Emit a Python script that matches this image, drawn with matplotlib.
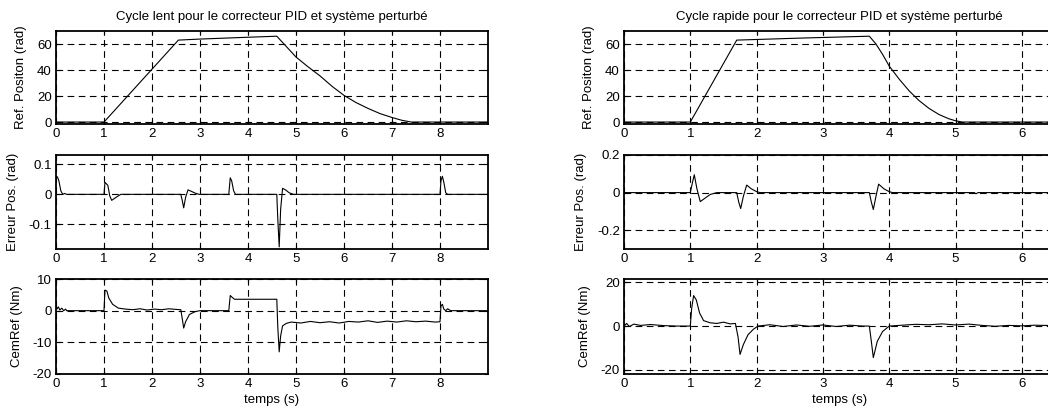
import matplotlib
matplotlib.use("Agg")
import matplotlib.pyplot as plt

# ---- cycle lent (left column) ----
slow_pos_t = [0.0, 1.0, 2.55, 3.0, 3.5, 4.0, 4.6, 4.8, 5.0, 5.25, 5.5, 5.75, 6.0, 6.25, 6.5, 6.75, 7.0, 7.2, 7.4, 9.0]
slow_pos_y = [0.0, 0.0, 63.0, 63.8, 64.5, 65.2, 66.0, 58.0, 50.0, 42.5, 35.5, 27.5, 20.5, 15.0, 10.5, 6.5, 3.5, 1.4, 0.0, 0.0]

slow_err_t = [0.0, 0.03, 0.06, 0.1, 0.14, 0.18, 0.22, 1.0, 1.02, 1.05, 1.08, 1.12, 1.16, 1.25, 1.35,
              2.6, 2.63, 2.66, 2.7, 2.75, 2.82, 2.9, 2.98, 3.6, 3.63, 3.66, 3.7, 3.74, 3.78,
              4.6, 4.62, 4.65, 4.68, 4.72, 4.78, 4.86, 4.95, 8.0, 8.02, 8.05, 8.08, 8.12, 8.16, 8.22, 9.0]
slow_err_y = [0.06, 0.058, 0.045, 0.012, 0.0, 0.003, 0.0, 0.0, 0.04, 0.035, 0.03, -0.005, -0.02, -0.01, 0.0,
              0.0, -0.02, -0.045, -0.01, 0.015, 0.01, 0.004, 0.0, 0.0, 0.055, 0.045, 0.012, 0.0, 0.0,
              0.0, -0.08, -0.175, -0.05, 0.02, 0.015, 0.005, 0.0, 0.0, 0.045, 0.06, 0.04, 0.005, 0.0, 0.0, 0.0]

slow_cem_t = [0.0, 0.02, 0.05, 0.08, 0.12, 0.16, 0.2, 0.22, 1.0, 1.02, 1.06, 1.1, 1.18, 1.3, 1.45,
              1.6, 1.75, 1.9, 2.05, 2.2, 2.35, 2.5, 2.6, 2.63, 2.66, 2.7, 2.78, 2.9, 3.0,
              3.6, 3.63, 3.67, 3.72, 3.76, 4.6, 4.62, 4.65, 4.68, 4.72, 4.8, 4.9,
              5.1, 5.3, 5.5, 5.7, 5.9, 6.1, 6.3, 6.5, 6.7, 6.9, 7.1, 7.3, 7.5, 7.7, 7.9, 8.0,
              8.02, 8.05, 8.08, 8.12, 8.16, 8.22, 9.0]
slow_cem_y = [2.0, 0.5, 1.2, 0.2, 0.8, 0.0, 0.5, 0.0, 0.0, 6.5, 6.2, 4.0, 2.0, 0.8, 0.5,
              0.3, 0.6, 0.2, 0.5, 0.3, 0.6, 0.4, 0.3, -2.5, -5.5, -3.5, -1.2, -0.3, 0.0,
              0.0, 4.8, 4.2, 3.6, 3.6, 3.6, -5.0, -13.0, -8.0, -4.8, -4.0, -3.6,
              -3.9, -3.4, -3.8, -3.5, -3.9, -3.4, -3.6, -3.2, -3.7, -3.3, -3.6, -3.2, -3.5, -3.3, -3.6, -3.5,
              1.5, 2.0, 0.5, 0.0, 0.6, 0.0, 0.0]

# ---- cycle rapide (right column) ----
fast_pos_t = [0.0, 1.0, 1.7, 2.2, 2.7, 3.2, 3.7, 3.8, 3.9, 4.0, 4.15, 4.3, 4.45, 4.6, 4.75, 4.9, 5.0, 5.1, 6.5]
fast_pos_y = [0.0, 0.0, 63.0, 63.8, 64.6, 65.3, 66.0, 60.0, 52.0, 43.0, 33.0, 24.0, 16.5, 10.5, 5.8, 2.5, 1.0, 0.0, 0.0]

fast_err_t = [0.0, 1.0, 1.03, 1.06, 1.1, 1.15, 1.22, 1.3, 1.4, 1.7, 1.73, 1.76, 1.8, 1.85, 1.92, 2.0, 2.05,
              3.7, 3.73, 3.76, 3.8, 3.84, 3.92, 4.0, 4.05, 5.28, 5.31, 5.34, 6.5]
fast_err_y = [0.0, 0.0, 0.05, 0.095, 0.02, -0.048, -0.03, -0.01, 0.0, 0.0, -0.05, -0.085, -0.02, 0.04, 0.02, 0.005, 0.0,
              0.0, -0.05, -0.09, -0.02, 0.045, 0.02, 0.005, 0.0, 0.0, -0.006, 0.0, 0.0]

fast_cem_t = [0.0, 0.04, 0.08, 0.15, 0.25, 0.4, 0.6, 0.8, 1.0, 1.02, 1.05, 1.09, 1.14, 1.2, 1.3,
              1.4, 1.5, 1.6, 1.68, 1.72, 1.75, 1.8, 1.87, 1.95, 2.02, 2.2, 2.4, 2.6, 2.8,
              3.0, 3.2, 3.4, 3.6, 3.7, 3.73, 3.76, 3.82, 3.9, 4.0, 4.2, 4.4, 4.6, 4.8,
              5.0, 5.2, 5.4, 5.6, 5.8, 6.0, 6.2, 6.5]
fast_cem_y = [0.0, 1.2, -0.2, 0.9, 0.3, 0.7, 0.2, 0.0, 0.0, 8.0, 14.0, 12.0, 6.0, 2.5, 1.5,
              1.2, 1.8, 1.0, 1.2, -5.0, -13.0, -8.5, -4.0, -1.5, 0.0, 0.6, -0.2, 0.5, -0.1,
              0.5, -0.2, 0.4, 0.0, 0.0, -7.0, -14.5, -7.0, -2.5, 0.0, 0.4, 0.8, 0.6, 1.0,
              0.5, 0.9, 0.3, -0.1, 0.3, 0.1, 0.4, 0.2]

titles = ["Cycle lent pour le correcteur PID et système perturbé",
          "Cycle rapide pour le correcteur PID et système perturbé"]
ylabels = ["Ref. Positon (rad)", "Erreur Pos. (rad)", "CemRef (Nm)"]

plt.rcParams["font.family"] = ["Liberation Sans", "DejaVu Sans"]
plt.rcParams["font.size"] = 9.5

W, H = 1048.0, 409.0
fig = plt.figure(figsize=(W / 100, H / 100), dpi=100)

rows = [(31, 124), (155, 249), (279, 374)]
cols = [(56, 488), (624, 1055)]


def make_ax(col, row):
    x0, x1 = cols[col]
    y0, y1 = rows[row]
    return fig.add_axes([x0 / W, 1 - y1 / H, (x1 - x0) / W, (y1 - y0) / H])


def style(ax, xlim, ylim, yticks, xticks, ylabel):
    ax.set_xlim(*xlim)
    ax.set_ylim(*ylim)
    ax.set_xticks(xticks)
    ax.set_yticks(yticks)
    ax.set_yticklabels([f"{v:g}" for v in yticks])
    ax.grid(True, color="black", linestyle=(0, (6, 4)), linewidth=0.8)
    ax.tick_params(direction="in", top=True, right=True, length=3, pad=3)
    for s in ax.spines.values():
        s.set_linewidth(1.3)
    ax.set_ylabel(ylabel, labelpad=7)


line_kw = dict(color="black", linewidth=0.8)

# left column
ax = make_ax(0, 0)
ax.plot(slow_pos_t, slow_pos_y, **line_kw)
style(ax, (0, 9), (-1.5, 70), [0, 20, 40, 60], range(9), ylabels[0])
ax.set_title(titles[0], fontsize=9.5, pad=8)

ax = make_ax(0, 1)
ax.plot(slow_err_t, slow_err_y, **line_kw)
style(ax, (0, 9), (-0.182, 0.131), [-0.1, 0, 0.1], range(9), ylabels[1])

ax = make_ax(0, 2)
ax.plot(slow_cem_t, slow_cem_y, **line_kw)
style(ax, (0, 9), (-20, 10), [-20, -10, 0, 10], range(9), ylabels[2])
ax.set_xlabel("temps (s)", labelpad=3)

# right column
ax = make_ax(1, 0)
ax.plot(fast_pos_t, fast_pos_y, **line_kw)
style(ax, (0, 6.5), (-1.5, 70), [0, 20, 40, 60], range(7), ylabels[0])
ax.set_title(titles[1], fontsize=9.5, pad=8)

ax = make_ax(1, 1)
ax.plot(fast_err_t, fast_err_y, **line_kw)
style(ax, (0, 6.5), (-0.3, 0.2), [-0.2, 0, 0.2], range(7), ylabels[1])

ax = make_ax(1, 2)
ax.plot(fast_cem_t, fast_cem_y, **line_kw)
style(ax, (0, 6.5), (-22, 21.6), [-20, 0, 20], range(7), ylabels[2])
ax.set_xlabel("temps (s)", labelpad=3)

fig.savefig("out.png", dpi=100)
